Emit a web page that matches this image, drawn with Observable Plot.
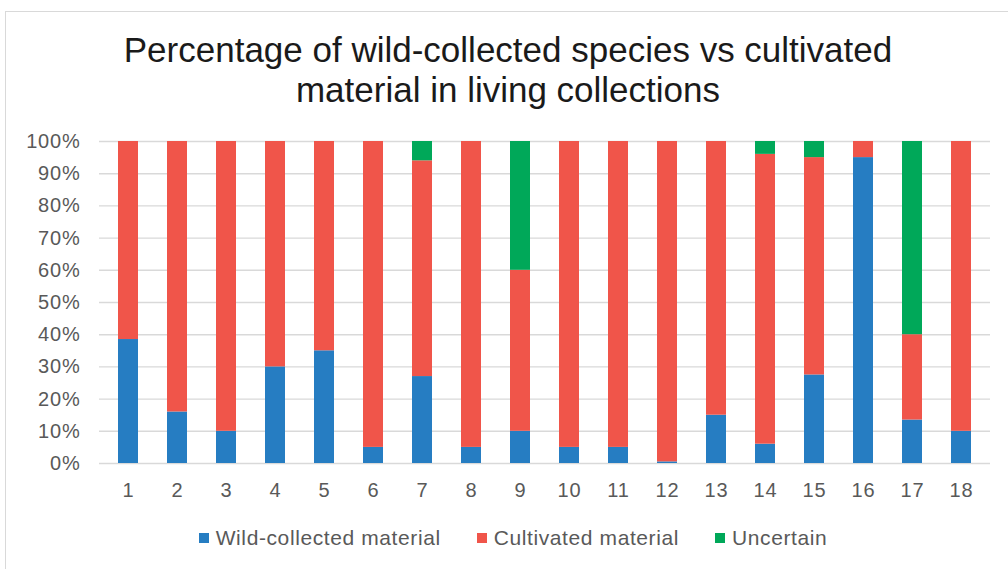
<!DOCTYPE html>
<html>
<head>
<meta charset="utf-8">
<script src="https://cdn.jsdelivr.net/npm/d3@7"></script>
<script src="https://cdn.jsdelivr.net/npm/@observablehq/plot@0.6"></script>
<style>
  body { margin: 0; background: #fff; }
  #wrap { position: relative; width: 1008px; height: 569px; overflow: hidden; font-family: "Liberation Sans", Arial, sans-serif; }
  #frame { position: absolute; left: 5px; top: 11px; width: 1010px; height: 570px; border: 1px solid #d9d9d9; box-sizing: border-box; }
  #title { position: absolute; left: 0; top: 30px; width: 1016px; text-align: center; font-size: 35px; line-height: 40px; color: #1a1a1a; }
  #chart { position: absolute; left: 0; top: 125px; }
  #legend { position: absolute; top: 526px; left: 0; width: 1008px; box-sizing: border-box; padding-left: 18px; display: flex; justify-content: center; gap: 36px; font-size: 21px; letter-spacing: 0.6px; color: #595959; line-height: 24px; }
  .item { display: flex; align-items: center; }
  .sw { width: 10px; height: 10px; margin-right: 7px; }
  #chart svg text { letter-spacing: 0.8px; }
</style>
</head>
<body>
<div id="wrap">
  <div id="frame"></div>
  <div id="title">Percentage of wild-collected species vs cultivated<br>material in living collections</div>
  <div id="chart"></div>
  <div id="legend"></div>
</div>
<script>
const categories = ["1","2","3","4","5","6","7","8","9","10","11","12","13","14","15","16","17","18"];
const seriesNames = ["Wild-collected material", "Cultivated material", "Uncertain"];
const seriesColors = ["#267DC2", "#F0554A", "#00A859"];
const wild       = [38.5, 16, 10, 30, 35,  5, 27,  5, 10,  5,  5,  0.5, 15,  6, 27.5, 95, 13.5, 10];
const cultivated = [61.5, 84, 90, 70, 65, 95, 67, 95, 50, 95, 95, 99.5, 85, 90, 67.5,  5, 26.5, 90];
const uncertain  = [ 0,    0,  0,  0,  0,  0,  6,  0, 40,  0,  0,  0,    0,  4,  5,    0, 60,    0];
const yTicks = [0,10,20,30,40,50,60,70,80,90,100];

const seriesValues = [wild, cultivated, uncertain];
const data = [];
categories.forEach((c, i) => {
  seriesNames.forEach((s, k) => data.push({cat: c, series: s, value: seriesValues[k][i]}));
});

const chart = Plot.plot({
  width: 1008,
  height: 385,
  marginLeft: 99,
  marginRight: 18,
  marginTop: 16,
  marginBottom: 47,
  style: {fontFamily: "'Liberation Sans', Arial, sans-serif", fontSize: "20px", color: "#595959", background: "transparent", overflow: "visible"},
  x: {domain: categories, paddingInner: 0.6, paddingOuter: 0.3, label: null},
  y: {domain: [0, 100], label: null},
  color: {domain: seriesNames, range: seriesColors},
  marks: [
    Plot.ruleY(yTicks, {stroke: "#d9d9d9", strokeWidth: 1.4}),
    Plot.barY(data, {x: "cat", y: "value", fill: "series", order: seriesNames}),
    Plot.axisY(yTicks, {tickSize: 0, tickPadding: 19, tickFormat: d => d + "%", fill: "#595959", label: null}),
    Plot.axisX({tickSize: 0, tickPadding: 19, fill: "#595959", label: null})
  ]
});
document.getElementById("chart").appendChild(chart);

const legend = document.getElementById("legend");
seriesNames.forEach((s, k) => {
  const it = document.createElement("div");
  it.className = "item";
  const sw = document.createElement("div");
  sw.className = "sw";
  sw.style.background = seriesColors[k];
  const t = document.createElement("span");
  t.textContent = s;
  it.appendChild(sw); it.appendChild(t);
  legend.appendChild(it);
});
</script>
</body>
</html>
